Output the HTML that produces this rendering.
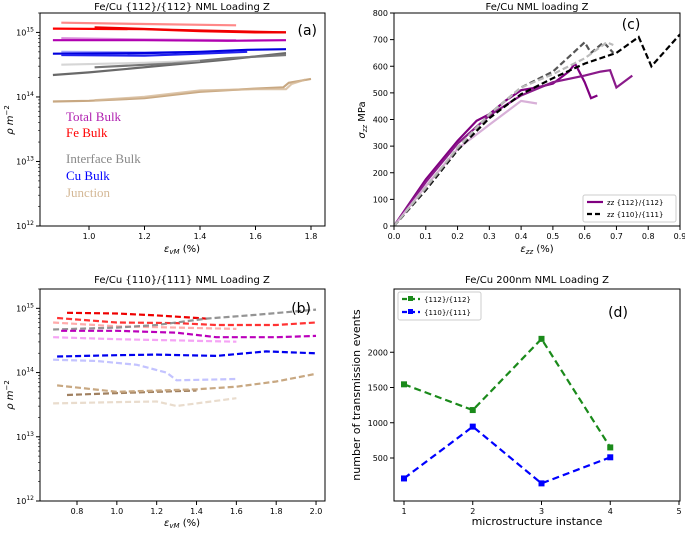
<!DOCTYPE html>
<html><head><meta charset="utf-8"><style>
body{margin:0;background:#fff;font-family:"Liberation Sans","DejaVu Sans",sans-serif}
svg text{font-family:"DejaVu Sans","Liberation Sans",sans-serif}
svg text.serif{font-family:"Liberation Serif","DejaVu Serif",serif}
</style></head><body>
<svg id="fig" width="685" height="528" viewBox="0 0 685 528"></svg>
<script>
// ===== Panel (a) data: x = strain (%), y = log10 density =====
const aCats=["Fe Bulk","Fe Bulk","Fe Bulk","Total Bulk","Total Bulk","Cu Bulk","Cu Bulk","Cu Bulk","Interface Bulk","Interface Bulk","Interface Bulk","Junction","Junction"];
const aColors=["#f55","#f00","#e00","#c040c0","#b000b0","#66f","#00d","#22e","#444","#777","#bbb","#c8a882","#d4b896"];
const aAlpha=[0.7,1,1,0.6,1,0.6,1,1,0.8,1,0.6,1,0.8];
const aX=[[0.9,1.2,1.53],[0.87,1.2,1.4,1.6,1.71],[1.02,1.3,1.5,1.71],[0.9,1.2,1.53],[0.87,1.2,1.5,1.71],[0.9,1.2,1.5],[0.87,1.2,1.4,1.57,1.71],[0.9,1.2,1.4,1.57],[0.87,1.0,1.3,1.5,1.71],[1.02,1.3,1.5,1.71],[0.9,1.2,1.4],[0.87,1.0,1.2,1.4,1.6,1.7,1.72,1.8],[1.02,1.2,1.4,1.6,1.71,1.73,1.78]];
const aY=[[15.15,15.13,15.11],[15.06,15.05,15.02,15.0,15.0],[15.08,15.04,15.02,15.0],[14.91,14.89,14.88],[14.88,14.88,14.87,14.88],[14.7,14.69,14.7],[14.67,14.68,14.7,14.73,14.74],[14.65,14.64,14.67,14.7],[14.34,14.38,14.5,14.58,14.68],[14.46,14.52,14.6,14.65],[14.5,14.53,14.56],[13.93,13.94,13.98,14.08,14.13,14.15,14.22,14.28],[13.95,14.0,14.1,14.12,14.12,14.2,14.27]];
// ===== Panel (b) data =====
const bColors=["#e00","#f33","#f88","#888","#b0b","#e6e","#00e","#88f","#a08060","#c8a882","#e0cdb8"];
const bAlpha=[1,1,0.7,0.9,1,0.6,1,0.5,1,1,0.7];
const bX=[[0.75,1.0,1.2,1.45],[0.7,1.0,1.3,1.5,1.8,2.0],[0.68,1.0,1.3,1.6],[0.68,1.0,1.2,1.45,1.7,2.0],[0.72,1.0,1.3,1.5,1.8,2.0],[0.68,1.0,1.3,1.6],[0.7,1.0,1.2,1.5,1.75,2.0],[0.68,0.9,1.1,1.25,1.3,1.6],[0.75,1.0,1.2,1.4],[0.7,1.0,1.4,1.6,1.8,2.0],[0.68,1.0,1.2,1.3,1.6]];
const bY=[[14.93,14.92,14.89,14.84],[14.85,14.78,14.77,14.74,14.74,14.78],[14.78,14.72,14.7,14.68],[14.67,14.7,14.74,14.84,14.9,14.98],[14.65,14.65,14.62,14.55,14.55,14.57],[14.55,14.52,14.5,14.48],[14.25,14.27,14.28,14.26,14.33,14.3],[14.2,14.18,14.12,14.0,13.88,13.9],[13.65,13.68,13.7,13.72],[13.8,13.7,13.74,13.78,13.86,13.98],[13.52,13.54,13.55,13.48,13.6]];
// ===== Panel (c) data =====
const cColors=["#800080","#8a1a8a","#d8b0d8","#000","#555","#bbb"];
const cDash=[0,0,0,1,1,1];
const cX=[[0,0.1,0.2,0.26,0.3,0.35,0.4,0.45,0.5,0.55,0.57,0.6,0.62,0.64],[0,0.1,0.2,0.3,0.4,0.5,0.6,0.65,0.68,0.7,0.75],[0,0.1,0.2,0.3,0.4,0.45],[0,0.1,0.2,0.3,0.4,0.5,0.6,0.7,0.77,0.81,0.9],[0,0.1,0.2,0.3,0.4,0.5,0.6,0.62,0.66,0.69],[0,0.1,0.2,0.3,0.4,0.5,0.6,0.67,0.69]];
const cY=[[0,175,320,395,420,470,510,520,535,580,610,540,480,490],[0,165,310,415,490,540,565,580,585,520,565],[0,150,290,380,470,460],[0,135,285,405,495,555,610,650,710,600,720],[0,140,290,420,520,580,690,650,690,650],[0,145,295,420,520,570,630,690,680]];
// ===== Panel (d) data =====
const dCats=[1,2,3,4];
const dGreen=[1545,1180,2190,650];
const dBlue=[210,945,140,510];

const svg=document.getElementById('fig');const NS='http://www.w3.org/2000/svg';
function el(t,a,p){const e=document.createElementNS(NS,t);for(const k in a)e.setAttribute(k,a[k]);(p||svg).appendChild(e);return e;}
function txt(x,y,s,size,anchor,extra){const t=el('text',Object.assign({x:x,y:y,'font-size':size,'text-anchor':anchor||'middle',fill:'#000'},extra||{}));t.innerHTML=s;return t;}
function box(x0,y0,x1,y1,name){const r=el('rect',{x:x0,y:y0,width:x1-x0,height:y1-y0,fill:'none',stroke:'#000','stroke-width':1});}
function logAxis(x0,y0,y1){const lmax=Math.log10(2e15);
 for(let e=12;e<=15;e++){const y=y1-(e-12)*(y1-y0)/(lmax-12);
  el('line',{x1:x0-4,y1:y,x2:x0,y2:y,stroke:'#000'});
  const t=txt(x0-6,y+3,'10<tspan font-size="6" dy="-4">'+e+'</tspan>',8,'end');
  for(let m=2;m<10;m++){const v=e+Math.log10(m);if(v>lmax)break;const yy=y1-(v-12)*(y1-y0)/(lmax-12);el('line',{x1:x0-2,y1:yy,x2:x0,y2:yy,stroke:'#000','stroke-width':0.6});}
 }}
function drawLines(X,Y,cols,alphas,sx,sy,dashed,name){for(let i=0;i<X.length;i++){const d=X[i].map((v,j)=>(j?'L':'M')+sx(v).toFixed(1)+','+sy(Y[i][j]).toFixed(1)).join('');const p=el('path',{d:d,fill:'none',stroke:cols[i],'stroke-opacity':alphas[i],'stroke-width':2.2,'stroke-dasharray':dashed[i]?'6,3':'none'});}}

// ---------- Panel a ----------
(function(){const x0=40,x1=325,y0=13,y1=226;const lmax=Math.log10(2e15);
 const sx=v=>89+(v-1.0)*277.5, sy=v=>y1-(v-12)*(y1-y0)/(lmax-12);
 drawLines(aX,aY,aColors,aAlpha,sx,sy,aX.map(()=>0),'panel-a-line');
 box(x0,y0,x1,y1,'panel-a-axes');logAxis(x0,y0,y1);
 [1.0,1.2,1.4,1.6,1.8].forEach(v=>{el('line',{x1:sx(v),y1:y1,x2:sx(v),y2:y1+4,stroke:'#000'});const t=txt(sx(v),y1+13,v.toFixed(1),8);});
 let t=txt(182,10,'Fe/Cu {112}/{112} NML Loading Z',10);
 t=txt(182,252,'<tspan font-style="italic">ε</tspan><tspan font-size="7" dy="2" font-style="italic">vM</tspan><tspan dy="-2"> (%)</tspan>',10);
 t=txt(13,120,'<tspan font-style="italic">ρ m</tspan><tspan font-size="7" dy="-4">−2</tspan>',10,'middle',{transform:'rotate(-90 13 120)'});
 t=txt(317,35,'(a)',14,'end');
 [['Total Bulk','#b020b0',121],['Fe Bulk','#f00',137],['Interface Bulk','#888',163],['Cu Bulk','#00f',180],['Junction','#d4b896',197]].forEach(a=>{const t=txt(66,a[2],a[0],13,'start',{fill:a[1],'class':'serif'});});
})();
// ---------- Panel b ----------
(function(){const x0=40,x1=325,y0=289,y1=501;const lmax=Math.log10(2e15);
 const sx=v=>77+(v-0.8)*199.2, sy=v=>y1-(v-12)*(y1-y0)/(lmax-12);
 drawLines(bX,bY,bColors,bAlpha,sx,sy,bX.map(()=>1),'panel-b-line');
 box(x0,y0,x1,y1,'panel-b-axes');logAxis(x0,y0,y1);
 [0.8,1.0,1.2,1.4,1.6,1.8,2.0].forEach(v=>{el('line',{x1:sx(v),y1:y1,x2:sx(v),y2:y1+4,stroke:'#000'});const t=txt(sx(v),y1+13,v.toFixed(1),8);});
 let t=txt(182,283,'Fe/Cu {110}/{111} NML Loading Z',10);
 t=txt(182,526,'<tspan font-style="italic">ε</tspan><tspan font-size="7" dy="2" font-style="italic">vM</tspan><tspan dy="-2"> (%)</tspan>',10);
 t=txt(13,395,'<tspan font-style="italic">ρ m</tspan><tspan font-size="7" dy="-4">−2</tspan>',10,'middle',{transform:'rotate(-90 13 395)'});
 t=txt(311,313,'(b)',14,'end');
})();
// ---------- Panel c ----------
(function(){const x0=394,x1=680,y0=13,y1=226;
 const sx=v=>x0+v/0.9*(x1-x0), sy=v=>y1-v/800*(y1-y0);
 const cp=el('clipPath',{id:'cc'});el('rect',{x:x0,y:y0,width:x1-x0,height:y1-y0},cp);
 for(let i=0;i<cX.length;i++){const d=cX[i].map((v,j)=>(j?'L':'M')+sx(v).toFixed(1)+','+sy(cY[i][j]).toFixed(1)).join('');const p=el('path',{d:d,fill:'none',stroke:cColors[i],'stroke-width':2.2,'stroke-dasharray':cDash[i]?'6,3':'none','clip-path':'url(#cc)'});}
 box(x0,y0,x1,y1,'panel-c-axes');
 for(let v=0;v<=800;v+=100){el('line',{x1:x0-4,y1:sy(v),x2:x0,y2:sy(v),stroke:'#000'});const t=txt(x0-6,sy(v)+3,v,8,'end');}
 for(let k=0;k<=9;k++){const v=k/10;el('line',{x1:sx(v),y1:y1,x2:sx(v),y2:y1+4,stroke:'#000'});const t=txt(sx(v),y1+13,v.toFixed(1),8);}
 let t=txt(537,10,'Fe/Cu NML loading Z',10);
 t=txt(537,252,'<tspan font-style="italic">ε</tspan><tspan font-size="7" dy="2" font-style="italic">zz</tspan><tspan dy="-2"> (%)</tspan>',10);
 t=txt(365,120,'<tspan font-style="italic">σ</tspan><tspan font-size="7" dy="2" font-style="italic">zz</tspan><tspan dy="-2"> MPa</tspan>',10,'middle',{transform:'rotate(-90 365 120)'});
 t=txt(631,29,'(c)',14,'middle');
 const lg=el('rect',{x:583,y:195,width:93,height:27,fill:'#fff',stroke:'#ccc',rx:2});
 el('line',{x1:587,y1:202,x2:603,y2:202,stroke:'#800080','stroke-width':2.2});el('line',{x1:587,y1:214,x2:603,y2:214,stroke:'#000','stroke-width':2.2,'stroke-dasharray':'5,3'});
 t=txt(607,205,'zz {112}/{112}',7,'start');
 t=txt(607,217,'zz {110}/{111}',7,'start');
})();
// ---------- Panel d ----------
(function(){const x0=394,x1=680,y0=289,y1=501;
 const sx=v=>404+(v-1)*(679-404)/4, sy=v=>458-(v-500)*0.0705;
 [[dGreen,'#1a8a1a','green'],[dBlue,'#00f','blue']].forEach(s=>{const d=dCats.map((c,j)=>(j?'L':'M')+sx(c).toFixed(1)+','+sy(s[0][j]).toFixed(1)).join('');const p=el('path',{d:d,fill:'none',stroke:s[1],'stroke-width':2.2,'stroke-dasharray':'7,4'});
  dCats.forEach((c,j)=>{const m=el('rect',{x:sx(c)-3,y:sy(s[0][j])-3,width:6,height:6,fill:s[1]});});});
 box(x0,y0,x1,y1,'panel-d-axes');
 [500,1000,1500,2000].forEach(v=>{el('line',{x1:x0-4,y1:sy(v),x2:x0,y2:sy(v),stroke:'#000'});const t=txt(x0-6,sy(v)+3,v,8,'end');});
 [1,2,3,4,5].forEach(v=>{el('line',{x1:sx(v),y1:y1,x2:sx(v),y2:y1+4,stroke:'#000'});const t=txt(sx(v),y1+13,v,8);});
 let t=txt(537,283,'Fe/Cu 200nm NML Loading Z',10);
 t=txt(537,525,'microstructure instance',11);
 t=txt(360,395,'number of transmission events',11,'middle',{transform:'rotate(-90 360 395)'});
 t=txt(618,317,'(d)',14,'middle');
 const lg=el('rect',{x:398,y:292,width:83,height:28,fill:'#fff',stroke:'#ccc',rx:2});
 el('line',{x1:402,y1:299,x2:420,y2:299,stroke:'#1a8a1a','stroke-width':2.2,'stroke-dasharray':'5,3'});el('rect',{x:408,y:296,width:5,height:5,fill:'#1a8a1a'});
 el('line',{x1:402,y1:312,x2:420,y2:312,stroke:'#00f','stroke-width':2.2,'stroke-dasharray':'5,3'});el('rect',{x:408,y:309,width:5,height:5,fill:'#00f'});
 t=txt(424,302,'{112}/{112}',7,'start');
 t=txt(424,315,'{110}/{111}',7,'start');
})();
</script>
</body></html>
